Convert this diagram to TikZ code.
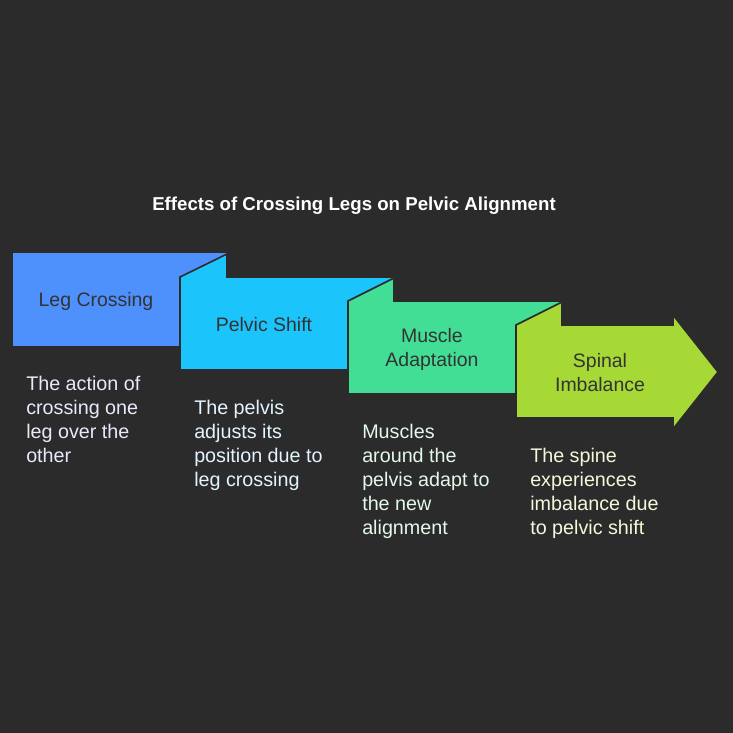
\documentclass[tikz,border=0pt]{standalone}
\usepackage{fontspec}
\setmainfont{Liberation Sans}
\definecolor{bgdark}{HTML}{2B2B2B}
\definecolor{legblue}{HTML}{4E90FC}
\definecolor{pelviccyan}{HTML}{1CC4FC}
\definecolor{musclegreen}{HTML}{43DE95}
\definecolor{spinelime}{HTML}{A6D936}
\definecolor{labelgray}{HTML}{333333}
\definecolor{desca}{HTML}{E6EAFB}
\definecolor{descb}{HTML}{E2F4FD}
\definecolor{descc}{HTML}{E3F9EA}
\definecolor{descd}{HTML}{F3F8DA}
\begin{document}
\begin{tikzpicture}[
        x=0.75pt, y=-0.75pt,
        panel/.style={draw=bgdark, line width=1.2pt, line join=miter},
        label/.style={font=\fontsize{14.6}{18}\selectfont, text=labelgray, align=center, inner sep=0pt},
        desc/.style={font=\fontsize{14.8}{18}\selectfont, align=left, anchor=north west, inner sep=0pt},
        heading/.style={font=\bfseries\fontsize{14}{16}\selectfont, text=white}
    ]
        % Background
        \fill[bgdark] (0,0) rectangle (733,733);
        \useasboundingbox (0,0) rectangle (733,733);

        % Title
        \node[heading] (title) at (354, 206) {Effects of Crossing Legs on Pelvic Alignment};

        % Panels (drawn back to front)
        \fill[legblue] (13,253) rectangle (227,346);
        \draw[panel, fill=pelviccyan] (180,277) -- (227,254) -- (227,277) -- (394,277)
            -- (394,370) -- (180,370) -- cycle;
        \draw[panel, fill=musclegreen] (348,301) -- (394,278) -- (394,301) -- (562,301)
            -- (562,394) -- (348,394) -- cycle;
        \draw[panel, fill=spinelime] (516,325) -- (562,302) -- (562,325) -- (673,325)
            -- (673,315) -- (718,372) -- (673,429) -- (673,418) -- (516,418) -- cycle;

        % Panel labels
        \node[label] (legcrossing) at (96, 301) {Leg Crossing};
        \node[label] (pelvicshift) at (264, 325) {Pelvic Shift};
        \node[label] (muscleadapt) at (432, 349) {Muscle\\Adaptation};
        \node[label] (spinalimb) at (600, 373) {Spinal\\Imbalance};

        % Descriptions
        \node[desc, text=desca] (legtext) at (26, 376) {The action of\\crossing one\\leg over the\\other};
        \node[desc, text=descb] (pelvictext) at (194, 400) {The pelvis\\adjusts its\\position due to\\leg crossing};
        \node[desc, text=descc] (muscletext) at (362, 424) {Muscles\\around the\\pelvis adapt to\\the new\\alignment};
        \node[desc, text=descd] (spinetext) at (530, 448) {The spine\\experiences\\imbalance due\\to pelvic shift};

    \end{tikzpicture}
\end{document}
